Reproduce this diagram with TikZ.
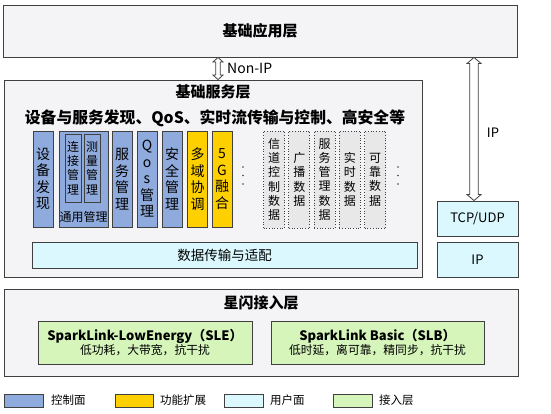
\documentclass[tikz,border=0pt]{standalone}
\usepackage{fontspec}
\setmainfont{Noto Sans CJK SC}
\usetikzlibrary{calc}
\definecolor{layerbg}{HTML}{F4F3F6}
\definecolor{linec}{HTML}{404040}
\definecolor{ctrlblue}{HTML}{8FAADC}
\definecolor{extyellow}{HTML}{FFD000}
\definecolor{usercyan}{HTML}{DAF8FD}
\definecolor{accgreen}{HTML}{D6F5BA}
\definecolor{datagray}{HTML}{E8E8E8}
\newcommand\hollowdbl[5]{%
  \draw[arrowline] (#1) -- ++(#3,#5) -- ++({#4-#3},0) -- ($(#2)+(#4,-#5)$) -- ++({#3-#4},0) -- (#2)
    -- ++(-#3,-#5) -- ++({#3-#4},0) -- ($(#1)+(-#4,#5)$) -- ++({#4-#3},0) -- cycle;}
\tikzset{
  sz/.style 2 args={minimum width=#1pt, minimum height=#2pt, inner sep=0pt},
  layer/.style={draw=linec, fill=layerbg, line width=0.9pt},
  ctrl/.style={draw=linec, fill=ctrlblue, line width=0.8pt, align=center},
  ext/.style={draw=linec, fill=extyellow, line width=0.8pt, align=center},
  user/.style={draw=linec, fill=usercyan, line width=0.9pt, align=center},
  acc/.style={draw=linec, fill=accgreen, line width=0.9pt, align=center},
  data/.style={draw=linec, fill=datagray, line width=0.7pt, dotted, align=center},
  vbig/.style={font=\fontsize{14}{16.5}\selectfont},
  vsmall/.style={font=\fontsize{12}{14.3}\selectfont},
  title/.style={font=\fontsize{15}{18}\selectfont\bfseries},
  lbl/.style={font=\fontsize{13}{16}\selectfont, inner sep=0pt},
  leg/.style={font=\fontsize{11.5}{14}\selectfont, inner sep=0pt, anchor=west},
  arrowline/.style={draw=linec, fill=white, line width=0.8pt, line join=miter},
  dotmark/.style={fill=linec},
}
\begin{document}
\begin{tikzpicture}[x=1pt, y=-1pt]
\useasboundingbox[fill=white] (0,0) rectangle (551,413);

% layers
\node[layer, sz={514}{52}] (topbox) at (260,31) {};
\node[title] (toptitle) at (260,31) {基础应用层};
\node[layer, sz={418}{197}] (basic) at (213,178.5) {};
\node[title] (basictitle) at (213,92) {基础服务层};
\node[font=\fontsize{15.8}{18}\selectfont\bfseries] (subtitle) at (215,118) {设备与服务发现、QoS、实时流传输与控制、高安全等};

% right stack
\node[user, sz={81}{35}, lbl] (tcp) at (477.5,218.5) {TCP/UDP};
\node[user, sz={81}{35}, lbl] (ipbox) at (477.5,259.5) {IP};

% control plane boxes
\node[ctrl, sz={20}{96}, vbig] (sbfx) at (43,179) {设\\备\\发\\现};
\node[ctrl, sz={49}{96}] (tygl) at (83.5,179) {};
\node[ctrl, sz={16}{68}, vsmall] (ljgl) at (73,168) {连\\接\\管\\理};
\node[ctrl, sz={16}{68}, vsmall] (clgl) at (92,168) {测\\量\\管\\理};
\node[font=\fontsize{12}{14}\selectfont, inner sep=0pt] (tyglt) at (83.5,217) {通用管理};
\node[ctrl, sz={20}{96}, vbig] (fwgl) at (122,179) {服\\务\\管\\理};
\node[ctrl, sz={20}{96}, vbig] (qosgl) at (147,179) {Q\\o\\s\\管\\理};
\node[ctrl, sz={20}{96}, vbig] (aqgl) at (172,179) {安\\全\\管\\理};
\node[ext, sz={20}{96}, vbig] (dyxt) at (197.5,179) {多\\域\\协\\调};
\node[ext, sz={20}{96}, vbig] (rh5g) at (222,179) {5\\G\\融\\合};
\foreach \yy in {167,175.5,184} \fill[dotmark] (243,\yy) circle (0.9);

% data boxes
\node[data, sz={21}{97}, vsmall] (xdkz) at (274,179.5) {信\\道\\控\\制\\数\\据};
\node[data, sz={21}{97}, vsmall] (gbsj) at (299.3,179.5) {广\\播\\数\\据};
\node[data, sz={21}{97}, vsmall] (fwsj) at (324.6,179.5) {服\\务\\管\\理\\数\\据};
\node[data, sz={21}{97}, vsmall] (sssj) at (349.9,179.5) {实\\时\\数\\据};
\node[data, sz={21}{97}, vsmall] (kksj) at (375.2,179.5) {可\\靠\\数\\据};
\foreach \yy in {167,175.5,184} \fill[dotmark] (398,\yy) circle (0.9);

\node[user, sz={385}{26}, font=\fontsize{13.5}{16}\selectfont] (dtrans) at (224.5,255) {数据传输与适配};

% access layer
\node[layer, sz={514}{87}] (access) at (261,332.5) {};
\node[title] (acctitle) at (261,303) {星闪接入层};
\node[acc, sz={214}{43}, font=\fontsize{11.8}{14.5}\selectfont] (sle) at (145,342.5)
  {{\fontsize{13}{14.5}\selectfont\bfseries SparkLink-LowEnergy（SLE）}\\低功耗，大带宽，抗干扰};
\node[acc, sz={213}{43}, font=\fontsize{11.8}{14.5}\selectfont] (slb) at (377.5,342.5)
  {{\fontsize{13}{14.5}\selectfont\bfseries SparkLink Basic（SLB）}\\低时延，离可靠，精同步，抗干扰};

% arrows
\coordinate (xn) at (218,0);
\coordinate (nA) at (xn |- topbox.south);
\coordinate (nB) at (xn |- basic.north);
\hollowdbl{nA}{nB}{5}{2.3}{4.5}
\node[font=\fontsize{14}{16}\selectfont, inner sep=0pt, anchor=west] (nonip) at (227,68) {Non-IP};
\coordinate (xi) at (474,0);
\coordinate (iA) at (xi |- topbox.south);
\coordinate (iB) at (xi |- tcp.north);
\hollowdbl{iA}{iB}{7}{4.3}{6}
\node[lbl] (iplbl) at (493,133) {IP};

% legend
\node[ctrl, sz={39}{13}] (lg1) at (23.5,400.5) {};
\node[leg] (lg1t) at (51,400.5) {控制面};
\node[ext, sz={38}{13}] (lg2) at (134,400.5) {};
\node[leg] (lg2t) at (160,400.5) {功能扩展};
\node[user, sz={39}{13}] (lg3) at (243.5,400.5) {};
\node[leg] (lg3t) at (270,400.5) {用户面};
\node[acc, sz={39}{13}] (lg4) at (352.5,400.5) {};
\node[leg] (lg4t) at (379,400.5) {接入层};
\end{tikzpicture}
\end{document}
